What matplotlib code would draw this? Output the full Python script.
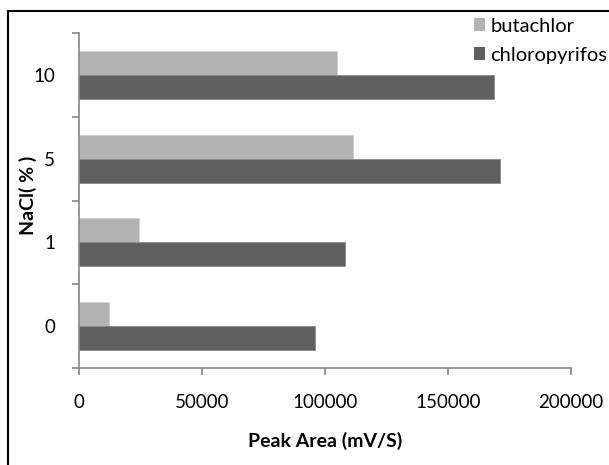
import matplotlib
matplotlib.use("Agg")
import matplotlib.pyplot as plt
from matplotlib.lines import Line2D
from matplotlib.patches import Patch
import numpy as np

categories = ["0", "1", "5", "10"]
butachlor = [12300, 24500, 111300, 104800]
chloropyrifos = [95800, 108000, 171300, 168700]
x_ticks = [0, 50000, 100000, 150000, 200000]

plt.rcParams["font.family"] = ["Lato", "DejaVu Sans"]

fig = plt.figure(figsize=(6.09, 4.65), dpi=100)
ax = fig.add_axes([0.1294, 0.2092, 0.9376 - 0.1294, 0.9284 - 0.2092])

y = np.arange(len(categories))
h = 0.289
c_light = "#b3b3b3"
c_dark = "#5f5f5f"
ax.barh(y + h / 2, butachlor, height=h, color=c_light, edgecolor="#d0d0d0",
        linewidth=0.6)
ax.barh(y - h / 2, chloropyrifos, height=h, color=c_dark, edgecolor="#8a8a8a",
        linewidth=0.6)

ax.set_xlim(0, 200000)
ax.set_ylim(-0.5, len(categories) - 0.5)
ax.set_xticks(x_ticks)
ax.set_xticklabels([str(v) for v in x_ticks])
ax.set_yticks(y)
ax.set_yticklabels(categories)
ax.set_yticks(np.arange(-0.5, len(categories), 1.0), minor=True)

for s in ("top", "right"):
    ax.spines[s].set_visible(False)
axis_col = "#868686"
for s in ("left", "bottom"):
    ax.spines[s].set_color(axis_col)
    ax.spines[s].set_linewidth(1.2)

ax.tick_params(axis="x", which="major", length=5, width=1.2, color=axis_col,
               direction="out", pad=14, labelsize=13.5)
ax.tick_params(axis="y", which="major", length=0, pad=17, labelsize=13.5)
ax.tick_params(axis="y", which="minor", length=5, width=1.2, color=axis_col,
               direction="out")

ax.set_xlabel("Peak Area (mV/S)", fontsize=14, fontweight="bold", labelpad=15)
ax.set_ylabel("NaCl( % )", fontsize=14, fontweight="bold")
ax.yaxis.set_label_coords(-0.084, 0.515)

handles = [Patch(facecolor=c_light, edgecolor="none"),
           Patch(facecolor=c_dark, edgecolor="none")]
fig.legend(handles, ["butachlor", "chloropyrifos"], loc="upper left",
           bbox_to_anchor=(0.778, 0.962), frameon=False,
           fontsize=14.5, handlelength=0.57, handleheight=0.57, handletextpad=0.25,
           labelspacing=0.6, borderaxespad=0.0, borderpad=0.0)

# outer chart border
fig.add_artist(Line2D([8 / 609, 1.0], [1 - 11 / 465, 1 - 11 / 465],
                      transform=fig.transFigure, color="black", linewidth=1.5))
fig.add_artist(Line2D([8 / 609, 8 / 609], [0.0, 1 - 11 / 465],
                      transform=fig.transFigure, color="black", linewidth=1.5))

fig.savefig("out.png", dpi=100)
